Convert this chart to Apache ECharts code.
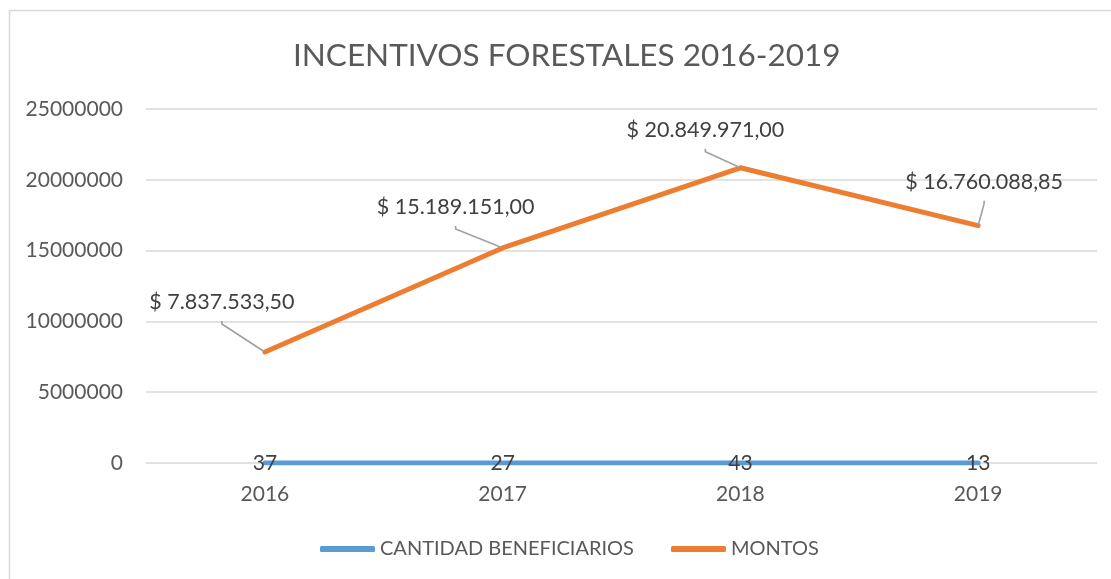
<!DOCTYPE html>
<html>
<head>
<meta charset="utf-8">
<script src="https://cdn.jsdelivr.net/npm/echarts@6/dist/echarts.min.js"></script>
<style>
  html, body { margin: 0; padding: 0; background: #fff; }
  #chart { width: 1111px; height: 579px; }
</style>
</head>
<body>
<div id="chart"></div>
<script>
const years = ["2016", "2017", "2018", "2019"];
const beneficiarios = [37, 27, 43, 13];
const montos = [7837533.50, 15189151.00, 20849971.00, 16760088.85];
const yTicks = [0, 5000000, 10000000, 15000000, 20000000, 25000000];

// moves the MONTOS labels away from the line, like the original leader lines
const labelShift = [[-43, -25], [-47, -16], [-35, -13], [6, -19]];

function pesos(v) {
  let parts = v.toFixed(2).split(".");
  let ent = parts[0].replace(/\B(?=(\d{3})+(?!\d))/g, ".");
  return "$ " + ent + "," + parts[1];
}

const font = "Lato";
const textColor = "#595959";

let chart = echarts.init(document.getElementById("chart"));
chart.setOption({
  backgroundColor: "#fff",
  textStyle: { fontFamily: font },
  graphic: [{
    type: "rect",
    shape: { x: 9.5, y: 10.5, width: 1300, height: 800 },
    style: { fill: "none", stroke: "#D9D9D9", lineWidth: 1.5 },
    silent: true
  }],
  title: {
    text: "INCENTIVOS FORESTALES 2016-2019",
    left: 288,
    top: 35,
    textStyle: { fontFamily: font, fontSize: 31.5, fontWeight: "normal", color: textColor }
  },
  grid: { left: 146, right: 14, top: 109, bottom: 116 },
  legend: {
    bottom: 15,
    left: 315,
    icon: "roundRect",
    itemWidth: 55,
    itemHeight: 6,
    itemGap: 37,
    textStyle: { fontFamily: font, fontSize: 20, color: textColor },
    data: ["CANTIDAD BENEFICIARIOS", "MONTOS"]
  },
  xAxis: {
    type: "category",
    data: years,
    boundaryGap: true,
    axisLine: { show: false },
    axisTick: { show: false },
    axisLabel: { margin: 21, fontFamily: font, fontSize: 21, color: textColor }
  },
  yAxis: {
    type: "value",
    min: yTicks[0],
    max: yTicks[yTicks.length - 1],
    interval: yTicks[1] - yTicks[0],
    axisLine: { show: false },
    axisTick: { show: false },
    axisLabel: {
      margin: 23,
      fontFamily: font,
      fontSize: 21,
      color: textColor,
      formatter: v => String(v)
    },
    splitLine: { lineStyle: { color: "#D9D9D9", width: 1.5 } }
  },
  series: [
    {
      name: "CANTIDAD BENEFICIARIOS",
      type: "line",
      data: beneficiarios,
      symbol: "circle",
      symbolSize: 2,
      color: "#5B9BD5",
      lineStyle: { width: 5, cap: "round" },
      label: {
        show: true,
        position: "inside",
        fontFamily: font,
        fontSize: 21,
        color: "#404040"
      },
      z: 3
    },
    {
      name: "MONTOS",
      type: "line",
      data: montos,
      symbol: "circle",
      symbolSize: 2,
      color: "#ED7D31",
      lineStyle: { width: 5, cap: "round", join: "round" },
      label: {
        show: true,
        position: "top",
        fontFamily: font,
        fontSize: 21.5,
        lineHeight: 38,
        color: "#404040",
        formatter: p => pesos(p.value)
      },
      labelLine: {
        show: true,
        length2: 3,
        lineStyle: { color: "#A0A0A0", width: 1.6 }
      },
      labelLayout: p => ({ dx: labelShift[p.dataIndex][0], dy: labelShift[p.dataIndex][1] }),
      z: 4
    }
  ]
});
</script>
</body>
</html>
